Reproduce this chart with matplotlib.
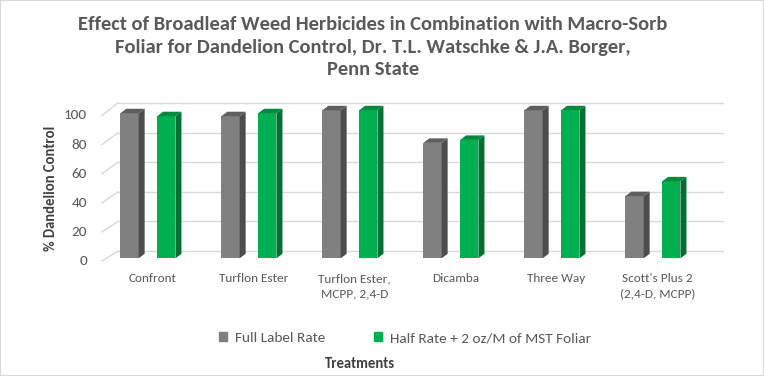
import matplotlib
matplotlib.use('Agg')
import matplotlib.pyplot as plt
import matplotlib.patches as patches
from matplotlib import font_manager

categories = ['Confront', 'Turflon Ester', 'Turflon Ester,\nMCPP, 2,4-D', 'Dicamba',
              'Three Way', "Scott's Plus 2\n(2,4-D, MCPP)"]
full_rate = [98, 96, 100, 78, 100, 42]
half_rate = [96, 98, 100, 80, 100, 52]
series_names = ['Full Label Rate', 'Half Rate + 2 oz/M of MST Foliar']
yticks = [0, 20, 40, 60, 80, 100]

W, H = 764, 376
names = {f.name for f in font_manager.fontManager.ttflist}
prefs = ['Carlito', 'Liberation Sans Narrow', 'Arial Narrow', 'Roboto Condensed',
         'Open Sans Condensed', 'PT Sans Narrow', 'Fira Sans Condensed', 'Archivo Narrow',
         'Encode Sans Condensed', 'Ubuntu Condensed', 'Liberation Sans']
font = next(p for p in prefs if p in names)
plt.rcParams['font.family'] = [font, 'DejaVu Sans']

txt = '#595959'
gray, gray_side, gray_top = '#808080', '#4d4d4d', '#5e5e5e'
green, green_side, green_top = '#00b050', '#006f32', '#008a3d'
grid_c = '#d9d9d9'

fig = plt.figure(figsize=(W / 100, H / 100), dpi=100)


def fx(px):
    return px / W


def fy(py):
    return 1 - py / H


# axes: x front floor 102..708 px, y value 0 at 258.3 px, 1.48 px per unit
ax = fig.add_axes([fx(102), fy(258.3), 606 / W, 148 / H])
ax.set_xlim(-0.5, 5.5)
ax.set_ylim(0, 100)
ax.axis('off')

ppx = 101.0   # px per category
ppy = 1.48    # px per value unit

# back wall gridlines and left wall diagonals
back_dy = 7.3 / ppy
bx0 = -0.5 + 16 / ppx
bx1 = -0.5 + 621 / ppx
for g in yticks:
    ax.plot([bx0, bx1], [g + back_dy, g + back_dy], color=grid_c, lw=1, clip_on=False, zorder=1)
    front_y = g * 1.455 / ppy - 2.7 / ppy
    ax.plot([-0.5, bx0], [front_y, g + back_dy], color=grid_c, lw=1, clip_on=False, zorder=1)
    ax.text(-0.5 - 15 / ppx, front_y, str(g), ha='right', va='center', fontsize=11,
            color=txt)

bw = 18.3 / ppx
ddx = 6 / ppx
ddy = 4.5 / ppy
offsets = [-23 / ppx, 13.8 / ppx]
styles = [(gray, gray_side, gray_top), (green, green_side, green_top)]

for vals, off, (fc, sc, tc) in zip([full_rate, half_rate], offsets, styles):
    xs = [i + off for i in range(len(vals))]
    ax.bar(xs, vals, width=bw, color=fc, edgecolor='none', zorder=3, clip_on=False)
    for x, v in zip(xs, vals):
        x0, x1 = x - bw / 2, x + bw / 2
        ax.add_patch(patches.Polygon([(x1, 0), (x1 + ddx, ddy), (x1 + ddx, v + ddy), (x1, v)],
                                     closed=True, facecolor=sc, edgecolor='none', zorder=3, clip_on=False))
        ax.add_patch(patches.Polygon([(x0, v), (x0 + ddx, v + ddy), (x1 + ddx, v + ddy), (x1, v)],
                                     closed=True, facecolor=tc, edgecolor='none', zorder=3, clip_on=False))

# category labels
for i, c in enumerate(categories):
    ax.text(i, -(273 - 258.3) / ppy, c, ha='center', va='top', fontsize=9.5,
            color=txt, linespacing=1.5)

# title
title = ('Effect of Broadleaf Weed Herbicides in Combination with Macro-Sorb\n'
         'Foliar for Dandelion Control, Dr. T.L. Watschke & J.A. Borger,\n'
         'Penn State')
fig.text(fx(373), fy(47), title, ha='center', va='center', fontsize=14.8, fontweight='bold',
         color=txt, linespacing=1.42)

fig.text(fx(51), fy(188), '% Dandelion Control', rotation=90, ha='center', va='center',
         fontsize=10.5, fontweight='bold', color='#404040')
fig.text(fx(360), fy(364), 'Treatments', ha='center', va='center', fontsize=10.5,
         fontweight='bold', color='#404040')

handles = [patches.Patch(color=gray), patches.Patch(color=green)]
fig.legend(handles, series_names, loc='center', bbox_to_anchor=(fx(405), fy(338)), ncol=2,
           frameon=False, fontsize=11, handlelength=0.55, handleheight=0.55, handletextpad=0.5,
           columnspacing=3.2, labelcolor=txt)

fig.patches.append(patches.Rectangle((0, 0), 1, 1, transform=fig.transFigure, fill=False,
                                     edgecolor='#d9d9d9', lw=1.5))

fig.savefig('out.png', dpi=100)
